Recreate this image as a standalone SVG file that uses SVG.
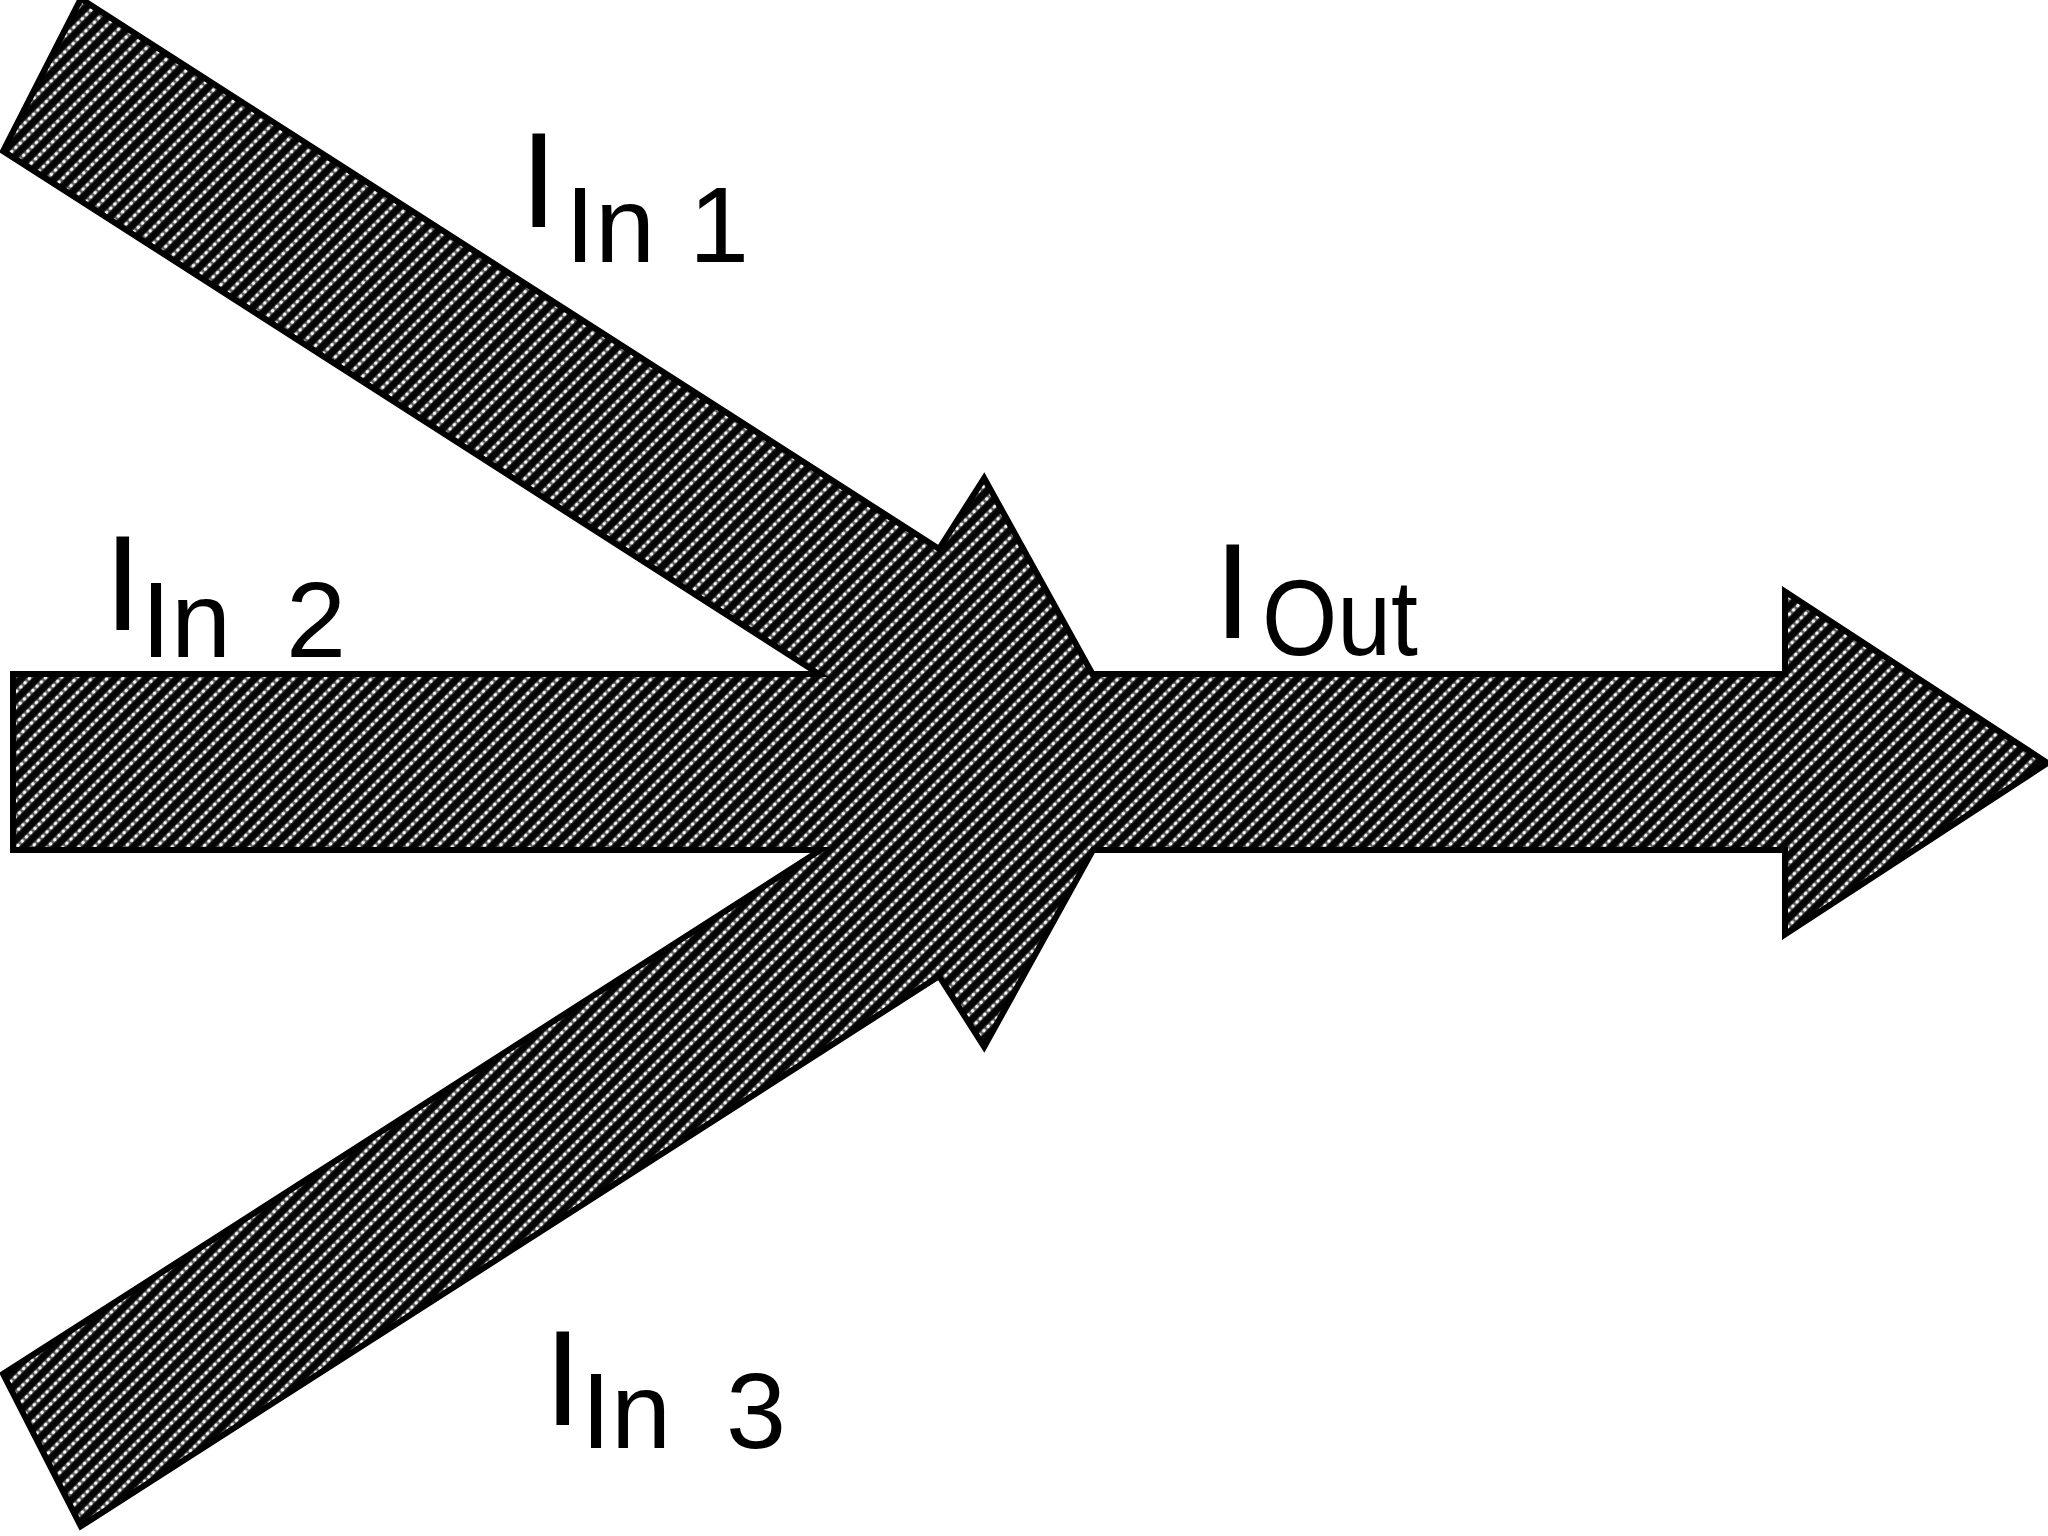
<svg xmlns="http://www.w3.org/2000/svg" xmlns:xlink="http://www.w3.org/1999/xlink" width="2048" height="1536" viewBox="0 0 2048 1536">
  <style>
    .outline { fill: #000; stroke: #000; stroke-width: 12; stroke-linejoin: miter; }
    .hatch { fill: url(#hatch); stroke: none; }
    .big { font-family: "Liberation Sans", Arial, sans-serif; font-size: 135px; fill: #000; }
    .sub { font-family: "Liberation Sans", Arial, sans-serif; font-size: 108px; fill: #000; }
  </style>
  <defs>
    <pattern id="hatch" patternUnits="userSpaceOnUse" width="12" height="11" patternTransform="rotate(-45)">
      <rect width="12" height="11" fill="#050505"/>
      <rect y="3.6" width="12" height="3.8" fill="#626262"/>
      <circle cx="3" cy="5.5" r="1.8" fill="#fff"/>
      <circle cx="9" cy="5.5" r="1.8" fill="#fff"/>
    </pattern>
    <path id="p-out" d="M16,677 L1788,677 L1788,597 L2042,763 L1788,929 L1788,847 L16,847 Z"/>
    <path id="p-in1" d="M82,3 L940,553 L984,484 L1151,786 L807,760 L851,691 L7,150 Z"/>
    <path id="p-in3" d="M82,1522 L940,972 L984,1041 L1151,739 L807,765 L851,834 L7,1375 Z"/>
  </defs>
  <rect width="2048" height="1536" fill="#fff"/>
  <g id="connectors">
    <g id="outlines" class="outline">
      <use xlink:href="#p-out" href="#p-out"/>
      <use xlink:href="#p-in1" href="#p-in1"/>
      <use xlink:href="#p-in3" href="#p-in3"/>
    </g>
    <g id="arrow-out" class="hatch"><use xlink:href="#p-out" href="#p-out"/></g>
    <g id="arrow-in1" class="hatch"><use xlink:href="#p-in1" href="#p-in1"/></g>
    <g id="arrow-in3" class="hatch"><use xlink:href="#p-in3" href="#p-in3"/></g>
  </g>
  <g id="label-in1">
    <text class="big" x="520" y="227">I</text>
    <text class="sub" x="565" y="262">In <tspan x="689">1</tspan></text>
  </g>
  <g id="label-in2">
    <text class="big" x="104" y="630">I</text>
    <text class="sub" x="141" y="657">In <tspan x="286">2</tspan></text>
  </g>
  <g id="label-out">
    <text class="big" x="1214" y="638">I</text>
    <text class="sub" x="1262" y="655" textLength="156" lengthAdjust="spacingAndGlyphs">Out</text>
  </g>
  <g id="label-in3">
    <text class="big" x="544" y="1425">I</text>
    <text class="sub" x="581" y="1448">In <tspan x="726">3</tspan></text>
  </g>
</svg>
